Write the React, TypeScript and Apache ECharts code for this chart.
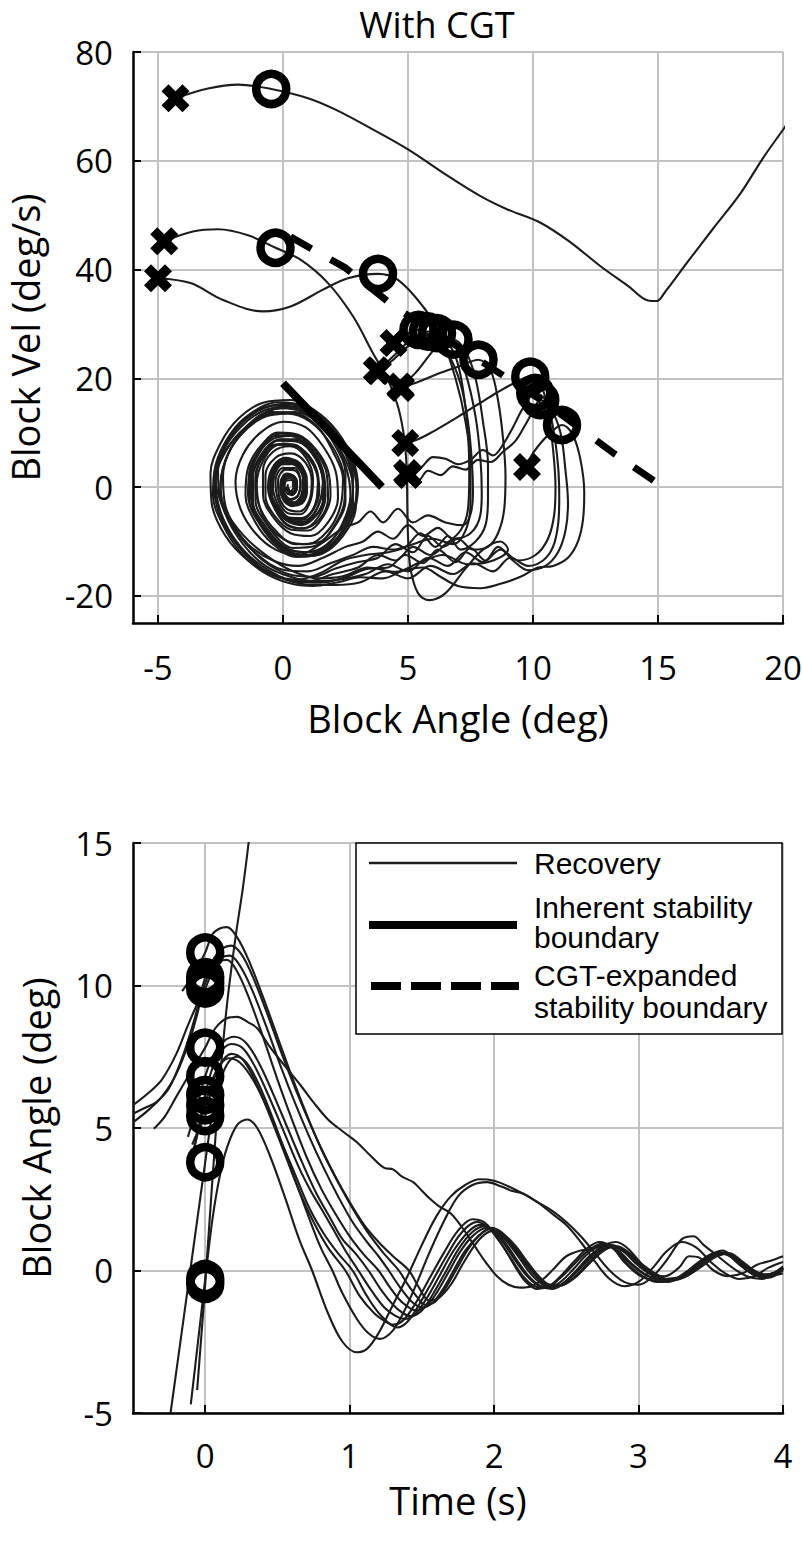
import React, { useEffect, useRef } from "react";
import * as echarts from "echarts";

const AXIS_FONT = "'Open Sans', 'DejaVu Sans', sans-serif";
const LEGEND_FONT = "'Liberation Sans', Arial, sans-serif";

// ---------- phase plane: [block angle (deg), block velocity (deg/s)] ----------
const phase01 = [[-4.3,71.5],[-3,73.3],[-1.8,74],[-0.47,73.2],[1,71.5],[2.1,69.4],[3.5,66],[5,62.1],[6.5,57.5],[7.9,53.5],[9,51],[10.3,48.6],[11.5,45],[12.7,40.6],[13.8,37],[14.6,34.3],[14.95,34.2],[15.3,36],[16.2,41.5],[17.2,47.5],[18.3,54],[19.2,60.5],[20,65.7],[20.5,69]];
const phase02 = [[-4.75,45.2],[-3.6,47],[-2.6,47.4],[-1.4,46.3],[-0.3,44],[0.7,41.8],[1.8,37.5],[2.8,31.4],[3.6,24.6],[4.2,19.7],[4.6,14.8],[4.85,9],[4.95,3],[4.97,-3],[5.0,-9],[5.1,-15],[5.4,-19.5],[5.85,-20.8],[6.5,-19.5],[7.3,-15],[8.0,-11.5],[8.7,-10],[9.0,-11.5],[8.4,-13.5],[7.4,-14.2],[6.4,-12.5],[5.5,-13.8],[4.5,-15.6],[3.4,-14.8],[2.4,-16.4],[1.4,-16.8],[0.4,-15.5],[-0.6,-12.8],[-1.6,-8.8],[-2.4,-3.5],[-2.7,1.5],[-2.3,6.5],[-1.5,11],[-0.5,13.8],[0.5,13.6],[1.4,11],[2.0,6.5],[2.4,1.5],[2.3,-3.5],[1.8,-8],[1.0,-10.5],[0.2,-10],[-0.6,-7],[-1.1,-2.5],[-1.1,2],[-0.7,6],[0,8],[0.7,7.2],[1.3,3.8],[1.45,-0.8],[1.1,-4.8],[0.5,-6.3],[-0.1,-5],[-0.45,-1.8],[-0.4,1.8],[-0.05,4.2],[0.45,4.2],[0.8,1.8],[0.8,-1.2],[0.5,-3],[0.1,-2.6],[-0.1,-0.5],[0.05,1.8],[0.35,2.2],[0.55,0.6],[0.45,-1.2],[0.2,-1.3],[0.1,0]];
const phase03 = [[-5.0,38.4],[-3.7,37.5],[-2.4,34.4],[-0.8,32.3],[0.3,33.2],[1.6,36.3],[2.6,38.4],[3.8,39.2],[4.6,38.1],[5.6,33.2],[6.3,28],[6.9,20],[7.3,12],[7.5,4],[7.5,-3],[7.3,-8],[6.8,-10.5],[6,-9.5],[5.2,-10.5],[4.4,-11.5],[3.6,-11],[2.8,-12.5],[1.9,-14],[1.0,-15.5],[0,-15.2],[-1.0,-12.5],[-1.9,-8],[-2.5,-2.5],[-2.6,3],[-2.1,8],[-1.2,12],[-0.1,14.5],[0.9,13.6],[1.8,10],[2.5,5],[2.8,0],[2.6,-5],[2.0,-9.5],[1.1,-12],[0.2,-11.5],[-0.6,-8.5],[-1.2,-4],[-1.3,1],[-0.9,5.5],[-0.2,8.5],[0.6,8.3],[1.3,5.2],[1.6,0.8],[1.4,-3.5],[0.9,-6],[0.2,-6],[-0.3,-3.5],[-0.5,0],[-0.3,3.5],[0.2,5],[0.7,3.6],[0.9,0.5],[0.75,-2.5],[0.35,-3.5],[0,-1.8],[-0.1,0.8],[0.15,2.5],[0.45,1.8],[0.55,-0.3],[0.35,-1.5],[0.15,-0.8],[0.2,0.5]];
const phase04 = [[4.42,26.5],[4.7,27.5],[5.1,28.5],[5.42,28.9],[6.0,27.5],[6.6,24.5],[7.1,19],[7.4,12],[7.55,5],[7.6,-1],[7.5,-5],[7.2,-7],[6.5,-6.5],[5.8,-5.2],[5.2,-6.5],[4.6,-4],[4.0,-6.5],[3.5,-4.5],[3.0,-6.5],[2.4,-7.5],[1.5,-10.5],[0.6,-12.5],[-0.3,-11.5],[-1.1,-8.5],[-1.7,-4],[-1.9,1],[-1.6,6],[-0.9,10],[0,12],[0.9,11],[1.6,7.5],[2.1,3],[2.2,-2],[1.8,-6.5],[1.1,-9],[0.3,-8.5],[-0.4,-5.5],[-0.8,-1.5],[-0.8,3],[-0.4,6.5],[0.3,7.5],[0.9,5.5],[1.2,1.5],[1.1,-2.5],[0.7,-5],[0.2,-4.8],[-0.2,-2.2],[-0.3,1.2],[0,3.5],[0.45,3.5],[0.7,1],[0.6,-1.6],[0.3,-2.4],[0.05,-1],[0.05,1],[0.3,1.7],[0.45,0.4],[0.3,-0.8],[0.2,0]];
const phase05 = [[3.75,21.5],[4.3,23],[4.9,25.5],[5.5,27.5],[6.16,28.3],[6.8,26.5],[7.3,21],[7.7,13],[7.9,5],[7.95,-1],[7.9,-5],[7.5,-8.5],[6.8,-9.5],[6.2,-7.5],[5.6,-9],[5.0,-7],[4.4,-9.5],[3.8,-8.2],[3.2,-10],[2.5,-11],[1.6,-13],[0.6,-14.5],[-0.4,-13.5],[-1.4,-10.5],[-2.1,-6],[-2.5,-0.5],[-2.3,5],[-1.7,9.5],[-0.8,12.8],[0.2,13.5],[1.1,12],[1.9,8],[2.4,3],[2.5,-2.5],[2.1,-7],[1.4,-10.2],[0.5,-10.5],[-0.3,-8],[-0.9,-4],[-1.1,0.5],[-0.9,5],[-0.3,7.8],[0.4,7.8],[1.0,5.5],[1.4,1.5],[1.35,-2.5],[0.9,-5.5],[0.3,-5.8],[-0.2,-3.8],[-0.5,-0.5],[-0.35,2.8],[0.05,4.5],[0.5,4],[0.8,1.6],[0.75,-1.2],[0.45,-2.8],[0.1,-2.2],[-0.1,0],[0.05,1.8],[0.35,2],[0.5,0.5],[0.4,-1],[0.2,-0.6]];
const phase06 = [[4.69,18.5],[5.3,21],[5.9,24.5],[6.3,26.6],[6.82,27.1],[7.3,25],[7.7,20],[8.0,12],[8.2,4],[8.2,-2],[8.1,-7],[7.7,-10],[7.1,-11.5],[6.6,-9],[6.1,-11],[5.5,-8.5],[4.9,-11],[4.2,-12],[3.3,-12.5],[2.4,-13.5],[1.5,-15.8],[0.6,-17],[-0.4,-16.2],[-1.4,-13.5],[-2.3,-9],[-2.85,-3],[-2.9,2.5],[-2.5,8],[-1.8,12.5],[-0.8,15.5],[0.3,16],[1.3,14],[2.2,10],[2.8,5],[3.0,0],[2.8,-5],[2.2,-9.5],[1.4,-12.5],[0.5,-12.8],[-0.4,-10.5],[-1.1,-6.5],[-1.5,-1.5],[-1.4,3.5],[-0.9,7.5],[-0.2,10],[0.6,9.6],[1.3,7],[1.8,3],[1.9,-1.5],[1.6,-5.5],[1.0,-8],[0.3,-7.8],[-0.3,-5.5],[-0.7,-1.8],[-0.7,2.2],[-0.3,5.4],[0.3,6.2],[0.9,4.5],[1.15,1],[1.05,-2.5],[0.65,-4.5],[0.15,-4],[-0.15,-1.8],[-0.2,1.2],[0.1,3.2],[0.5,3],[0.7,0.8],[0.6,-1.5],[0.3,-2.2],[0.05,-0.8],[0.1,1],[0.35,1.3],[0.4,0]];
const phase07 = [[3.8,21.3],[4.4,24],[5.1,27],[5.8,28.6],[6.4,27.5],[6.9,24],[7.2,18],[7.4,10],[7.45,2],[7.4,-4],[7.1,-8],[6.5,-10.5],[5.9,-12.5],[5.2,-11],[4.5,-13.5],[3.8,-12.5],[3.0,-14.8],[2.0,-16],[1.0,-17.3],[0,-16.8],[-1.0,-14.5],[-1.9,-10],[-2.5,-4.5],[-2.7,1],[-2.4,6.5],[-1.7,11],[-0.8,14],[0.2,14.8],[1.2,13],[2.0,9],[2.5,4],[2.7,-1.5],[2.4,-6.5],[1.8,-10.5],[0.9,-12],[0,-10.8],[-0.7,-7.2],[-1.2,-2.8],[-1.2,2],[-0.8,6],[-0.1,8.8],[0.7,8.5],[1.3,5.5],[1.6,1.2],[1.45,-3],[1.0,-6.2],[0.35,-6.5],[-0.2,-4.2],[-0.5,-0.8],[-0.4,2.8],[0,4.8],[0.5,4.4],[0.85,1.8],[0.85,-1.2],[0.55,-3],[0.15,-2.6],[-0.05,-0.6],[0.05,1.6],[0.35,2.1],[0.55,0.6],[0.4,-1],[0.2,-0.6]];
const phase08 = [[4.72,18.2],[5.5,19.5],[6.3,21],[7.1,22.3],[7.82,23.4],[8.3,21.5],[8.6,16],[8.8,9],[8.9,2],[8.85,-4],[8.6,-8.5],[8.2,-11],[7.6,-11.5],[7.0,-9.5],[6.4,-11],[5.8,-9],[5.2,-12],[4.5,-10.5],[3.8,-13],[3.0,-13.8],[2.1,-15],[1.2,-16.5],[0.2,-16],[-0.8,-13.5],[-1.7,-9],[-2.3,-3.5],[-2.4,2],[-2.1,7],[-1.4,11],[-0.5,13.5],[0.5,13.8],[1.4,11.8],[2.1,7.5],[2.5,2.5],[2.45,-2.8],[2.0,-7.5],[1.3,-10.8],[0.4,-11.2],[-0.4,-8.4],[-0.9,-4.2],[-1.05,0.5],[-0.8,4.8],[-0.2,7.8],[0.5,7.6],[1.1,5],[1.4,1],[1.3,-3],[0.85,-5.7],[0.25,-5.6],[-0.2,-3.2],[-0.4,0],[-0.25,3.2],[0.15,4.6],[0.6,3.6],[0.85,0.8],[0.7,-2.2],[0.35,-3],[0.05,-1.5],[0,0.8],[0.25,2.2],[0.5,1.4],[0.5,-0.4],[0.3,-1.2],[0.15,-0.2]];
const phase09 = [[4.89,8.1],[5.4,8.8],[6.0,10.2],[6.6,11.8],[7.2,13.5],[7.9,15.5],[8.5,17.2],[9.2,19],[9.89,20.3],[10.3,19],[10.6,14],[10.8,7],[10.9,0],[10.85,-5],[10.6,-9.5],[10.1,-12.5],[9.4,-13.5],[8.7,-11.5],[8.0,-13.8],[7.3,-12],[6.6,-14.5],[5.8,-13],[5.0,-15.5],[4.2,-14.2],[3.3,-16],[2.3,-17],[1.3,-17.3],[0.3,-16.5],[-0.7,-14.5],[-1.6,-10.5],[-2.3,-5],[-2.5,0.5],[-2.2,6],[-1.5,10.8],[-0.6,14],[0.4,14.6],[1.4,12.6],[2.2,8.5],[2.7,3.5],[2.8,-1.8],[2.5,-6.8],[1.9,-10.8],[1.0,-12.6],[0.1,-11.5],[-0.7,-7.8],[-1.2,-3.3],[-1.25,1.5],[-0.9,5.8],[-0.25,8.6],[0.5,8.8],[1.2,6.2],[1.6,2],[1.6,-2.5],[1.2,-5.8],[0.55,-6.8],[-0.05,-5],[-0.45,-1.8],[-0.45,1.8],[-0.1,4.5],[0.4,4.8],[0.85,2.6],[0.95,-0.6],[0.7,-2.8],[0.3,-3.2],[0,-1.6],[-0.05,0.8],[0.2,2.2],[0.5,1.6],[0.55,-0.2],[0.35,-1.3],[0.15,-0.5]];
const phase10 = [[4.96,2.6],[5.5,3.5],[6.0,5.5],[6.5,5.2],[7.0,4.2],[7.5,5],[8.0,6.8],[8.4,5.8],[8.8,7.8],[9.2,11],[9.6,14.5],[10.09,17.3],[10.5,16],[10.8,11],[11.0,4],[11.05,-2],[11.0,-7],[10.8,-11],[10.4,-13.5],[9.8,-14.5],[9.1,-13],[8.4,-15.5],[7.6,-14],[6.8,-16],[5.9,-14.5],[5.0,-16.8],[4.1,-15.5],[3.1,-17.5],[2.1,-18],[1.1,-18],[0.1,-17],[-0.9,-14.8],[-1.8,-10.8],[-2.5,-5.5],[-2.75,0],[-2.5,5.5],[-1.9,10.5],[-1.0,14],[0.1,15.3],[1.2,13.8],[2.1,10],[2.7,5],[2.95,-0.5],[2.7,-5.8],[2.1,-10],[1.2,-12.5],[0.3,-12],[-0.5,-9],[-1.1,-4.6],[-1.35,0.2],[-1.1,5],[-0.5,8.6],[0.3,9.4],[1.0,7.4],[1.5,3.4],[1.65,-1.2],[1.35,-5],[0.75,-7],[0.1,-6],[-0.35,-3.2],[-0.55,0.4],[-0.35,3.8],[0.1,5.4],[0.6,4.4],[0.95,1.6],[0.9,-1.6],[0.55,-3.4],[0.15,-2.8],[-0.1,-0.8],[0,1.4],[0.3,2.3],[0.55,1.1],[0.5,-0.8],[0.25,-1.2],[0.15,0]];
const phase11 = [[5.02,2.2],[5.4,1.2],[5.8,3],[6.3,2.2],[6.8,3.8],[7.3,3.2],[7.8,5],[8.3,4.6],[8.8,6.5],[9.3,8.5],[9.7,11.5],[10.0,14],[10.29,16],[10.7,14.5],[11.1,10],[11.3,3],[11.4,-3],[11.3,-8],[11.0,-12],[10.5,-14.5],[9.8,-15.3],[9.2,-13.5],[8.6,-11],[8.1,-13.5],[7.5,-11.2],[6.9,-13.8],[6.2,-11.5],[5.6,-14],[4.9,-12.5],[4.2,-14.8],[3.4,-15],[2.5,-16.6],[1.5,-17.6],[0.5,-17.4],[-0.5,-15.5],[-1.5,-12],[-2.3,-6.8],[-2.7,-1],[-2.6,4.8],[-2.1,9.8],[-1.3,13.5],[-0.2,15.6],[0.9,14.8],[1.9,11.6],[2.6,6.5],[2.95,1],[2.9,-4.3],[2.4,-9],[1.6,-12.2],[0.6,-12.8],[-0.3,-10.4],[-1.0,-6.2],[-1.4,-1.4],[-1.3,3.4],[-0.8,7.5],[-0.1,9.8],[0.7,9.2],[1.3,6.6],[1.75,2.4],[1.8,-2.2],[1.45,-6],[0.8,-7.6],[0.15,-6.8],[-0.35,-3.8],[-0.6,-0.2],[-0.45,3.3],[0,5.2],[0.55,4.8],[0.9,2.2],[0.95,-1.2],[0.65,-3.2],[0.2,-3],[-0.05,-1],[0,1.3],[0.3,2.2],[0.55,1],[0.5,-0.8],[0.25,-1],[0.15,0]];
const phase12 = [[9.76,3.7],[9.9,5.5],[10.2,7.5],[10.6,9.5],[11.16,11.4],[11.6,9.5],[11.9,5],[12.05,-1],[12.0,-6],[11.8,-10],[11.4,-13],[10.8,-14.5],[10.2,-14.8],[9.5,-16.5],[8.7,-17.8],[7.9,-18.6],[7.0,-18.2],[6.3,-16.5],[5.6,-14.8],[4.8,-15.4],[4.0,-16.8],[3.1,-16.6],[2.2,-17.5],[1.2,-18.2],[0.2,-17.6],[-0.8,-15.6],[-1.7,-12],[-2.4,-7],[-2.8,-1.5],[-2.7,4],[-2.2,9],[-1.4,12.8],[-0.4,15],[0.7,14.6],[1.7,11.8],[2.4,7.2],[2.8,2],[2.8,-3.3],[2.4,-8],[1.6,-11.5],[0.7,-12.6],[-0.2,-10.8],[-0.9,-7],[-1.35,-2.4],[-1.35,2.5],[-0.95,6.6],[-0.3,9.4],[0.5,9.4],[1.15,7],[1.6,3],[1.7,-1.6],[1.4,-5.6],[0.8,-7.6],[0.15,-7],[-0.3,-4.2],[-0.55,-0.6],[-0.45,3],[-0.05,5],[0.5,4.8],[0.85,2.4],[0.95,-0.8],[0.7,-3],[0.25,-3.2],[-0.05,-1.4],[-0.05,0.9],[0.25,2.2],[0.5,1.5],[0.5,-0.3],[0.3,-1.2],[0.15,-0.4]];

const phaseTrials = [phase01, phase02, phase03, phase04, phase05, phase06, phase07, phase08, phase09, phase10, phase11, phase12];

// state at perturbation onset (t = 0) for each trial: [angle, velocity]
const onsetStates = [[-0.47,73.2],[-0.3,44],[3.8,39.2],[5.42,28.9],[6.16,28.3],[6.82,27.1],[5.8,28.6],[7.82,23.4],[9.89,20.3],[10.09,17.3],[10.29,16],[11.16,11.4]];

// stability boundaries in the phase plane
const inherentBoundary = [[0,19.1],[3.96,0]];
const cgtBoundary = [[0.3,46],[2.5,40.3],[4.5,33],[7.8,23.5],[10.5,15.5],[13.2,6.3],[15.2,0]];

// ---------- time course: [time (s), block angle (deg)] ----------
const time01 = [[-0.056,-4.2],[-0.03,-2.5],[0,-0.47],[0.05,3.2],[0.1,6.6],[0.15,9.3],[0.21,11.7],[0.26,13.4],[0.3,15],[0.33,16.4]];
const time02 = [[-0.1,-4.7],[-0.05,-2.5],[0,-0.3],[0.05,1.8],[0.1,3.3],[0.15,4.3],[0.22,5.1],[0.29,5.3],[0.36,5.0],[0.45,4.0],[0.55,2.6],[0.65,1.1],[0.74,0],[0.85,-1.5],[0.95,-2.5],[1.05,-2.87],[1.12,-2.75],[1.2,-2.2],[1.3,-1.2],[1.4,-0.2],[1.5,0.9],[1.6,1.9],[1.7,2.6],[1.8,3.0],[1.9,3.2],[2.0,3.15],[2.1,2.95],[2.2,2.7],[2.3,2.4],[2.4,2.0],[2.5,1.6],[2.6,1.0],[2.7,0.3],[2.8,-0.3],[2.9,-0.55],[3.0,-0.4],[3.1,0.1],[3.2,0.7],[3.3,1.0],[3.4,0.8],[3.5,0.3],[3.6,-0.1],[3.7,-0.3],[3.8,-0.2],[3.9,0.1],[4.0,0.3]];
const time03 = [[-0.24,-5],[-0.18,-2.8],[-0.12,-0.6],[-0.06,1.6],[0,3.8],[0.05,5.5],[0.1,6.6],[0.16,7.3],[0.22,7.5],[0.3,7.2],[0.4,6.2],[0.5,4.9],[0.6,3.5],[0.7,2.1],[0.8,0.8],[0.88,0],[0.95,-0.8],[1.05,-1.7],[1.13,-2.2],[1.21,-2.4],[1.3,-2.1],[1.38,-1.4],[1.46,-0.5],[1.55,0.6],[1.65,1.7],[1.75,2.6],[1.85,3.0],[1.95,3.1],[2.05,2.95],[2.12,2.8],[2.2,2.7],[2.3,2.4],[2.4,2.1],[2.5,1.7],[2.6,1.2],[2.7,0.6],[2.8,0],[2.9,-0.4],[3.0,-0.5],[3.1,-0.2],[3.2,0.4],[3.3,1.1],[3.38,1.2],[3.45,0.9],[3.55,0.5],[3.65,0.1],[3.75,-0.2],[3.85,-0.3],[3.95,-0.1],[4.0,0.1]];
const time04 = [[-0.09,4.42],[-0.05,4.9],[0,5.42],[0.05,6.5],[0.1,7.2],[0.18,7.6],[0.26,7.4],[0.35,6.6],[0.45,5.4],[0.55,4.1],[0.65,2.8],[0.75,1.7],[0.85,0.8],[0.97,0],[1.07,-0.9],[1.17,-1.5],[1.25,-1.8],[1.3,-1.9],[1.37,-1.75],[1.45,-1.2],[1.55,-0.3],[1.65,0.6],[1.75,1.4],[1.85,1.8],[1.93,1.7],[2.0,1.3],[2.08,0.7],[2.15,0.1],[2.22,-0.4],[2.3,-0.65],[2.38,-0.55],[2.46,-0.2],[2.55,0.3],[2.65,0.8],[2.73,1.0],[2.82,0.8],[2.9,0.3],[3.0,-0.15],[3.1,-0.35],[3.2,-0.4],[3.3,-0.2],[3.4,0.2],[3.5,0.55],[3.58,0.7],[3.66,0.45],[3.75,0.05],[3.85,-0.2],[3.93,-0.1],[4.0,0.15]];
const time05 = [[-0.1,3.75],[-0.05,4.9],[0,6.16],[0.05,7.1],[0.11,7.7],[0.18,7.95],[0.26,7.8],[0.35,7.1],[0.45,6.0],[0.55,4.8],[0.65,3.6],[0.73,2.8],[0.8,2.2],[0.88,1.5],[0.97,0.7],[1.06,0],[1.15,-0.7],[1.24,-1.3],[1.32,-1.6],[1.38,-1.7],[1.45,-1.55],[1.53,-1.0],[1.62,-0.2],[1.72,0.7],[1.82,1.35],[1.9,1.6],[1.98,1.45],[2.06,1.0],[2.14,0.4],[2.22,-0.15],[2.3,-0.5],[2.38,-0.6],[2.46,-0.4],[2.55,0.05],[2.65,0.6],[2.75,0.9],[2.84,0.75],[2.93,0.3],[3.03,-0.1],[3.13,-0.3],[3.23,-0.35],[3.33,-0.1],[3.45,0.35],[3.55,0.65],[3.62,0.55],[3.7,0.2],[3.8,-0.15],[3.9,-0.25],[4.0,0.05]];
const time06 = [[-0.12,4.69],[-0.06,5.7],[0,6.82],[0.06,7.6],[0.13,8.05],[0.2,8.2],[0.28,8.0],[0.37,7.3],[0.47,6.2],[0.57,5.0],[0.67,3.8],[0.77,2.7],[0.87,1.8],[0.95,1.1],[1.04,0.6],[1.13,0],[1.22,-0.7],[1.3,-1.2],[1.37,-1.5],[1.42,-1.6],[1.5,-1.4],[1.58,-0.8],[1.67,0],[1.76,0.8],[1.85,1.35],[1.93,1.55],[2.0,1.4],[2.08,0.95],[2.16,0.35],[2.24,-0.2],[2.32,-0.55],[2.4,-0.65],[2.48,-0.45],[2.57,0],[2.67,0.55],[2.77,0.85],[2.86,0.7],[2.95,0.25],[3.05,-0.15],[3.15,-0.35],[3.25,-0.3],[3.35,0],[3.47,0.4],[3.57,0.6],[3.65,0.45],[3.73,0.1],[3.83,-0.2],[3.92,-0.2],[4.0,0.05]];
const time07 = [[-0.1,3.8],[-0.05,4.85],[0,5.8],[0.05,6.7],[0.1,7.2],[0.16,7.45],[0.24,7.3],[0.33,6.7],[0.42,5.8],[0.52,4.6],[0.62,3.4],[0.72,2.2],[0.82,1.3],[0.92,0.6],[1.02,0],[1.12,-0.9],[1.22,-1.6],[1.33,-2.0],[1.4,-1.8],[1.48,-1.2],[1.57,-0.4],[1.67,0.5],[1.77,1.3],[1.88,1.7],[1.96,1.5],[2.04,1.0],[2.12,0.4],[2.2,-0.2],[2.28,-0.55],[2.36,-0.6],[2.45,-0.3],[2.55,0.2],[2.65,0.7],[2.75,0.95],[2.84,0.7],[2.93,0.2],[3.03,-0.2],[3.13,-0.4],[3.23,-0.35],[3.33,-0.05],[3.43,0.35],[3.53,0.6],[3.6,0.6],[3.68,0.3],[3.78,-0.1],[3.88,-0.25],[3.96,-0.05],[4.0,0.1]];
const time08 = [[-0.356,4.97],[-0.28,5.4],[-0.2,6.1],[-0.12,6.8],[-0.05,7.4],[0,7.82],[0.07,8.5],[0.15,8.85],[0.22,8.9],[0.3,8.7],[0.36,8.5],[0.44,7.9],[0.5,7.5],[0.58,7.0],[0.66,6.5],[0.75,5.9],[0.85,5.3],[0.96,4.85],[1.05,4.5],[1.15,4.0],[1.24,3.6],[1.3,3.55],[1.36,3.3],[1.44,3.1],[1.5,2.8],[1.56,2.5],[1.62,2.25],[1.7,2.0],[1.78,1.5],[1.86,0.9],[1.94,0.3],[2.02,-0.2],[2.1,-0.5],[2.18,-0.6],[2.26,-0.55],[2.34,-0.3],[2.42,0.1],[2.5,0.5],[2.6,0.7],[2.68,0.75],[2.76,0.9],[2.84,1.0],[2.92,0.8],[3.0,0.35],[3.08,-0.1],[3.18,-0.2],[3.28,0.1],[3.35,0.5],[3.42,0.45],[3.52,0.0],[3.62,-0.2],[3.72,-0.1],[3.82,0.2],[3.92,0.35],[4.0,0.5]];
const time09 = [[-0.5,5.8],[-0.4,6.2],[-0.3,6.7],[-0.2,7.6],[-0.12,8.6],[-0.06,9.3],[0,9.89],[0.05,10.5],[0.1,10.85],[0.15,10.9],[0.22,10.5],[0.3,9.6],[0.4,8.2],[0.5,6.7],[0.6,5.3],[0.7,4.0],[0.8,2.9],[0.9,2.0],[1.0,1.2],[1.1,0.55],[1.2,0],[1.28,-0.6],[1.36,-1.1],[1.46,-1.4],[1.53,-1.25],[1.6,-0.8],[1.68,-0.1],[1.77,0.7],[1.86,1.25],[1.95,1.5],[2.02,1.35],[2.1,0.95],[2.18,0.4],[2.26,-0.15],[2.34,-0.5],[2.42,-0.6],[2.5,-0.35],[2.6,0.15],[2.7,0.65],[2.8,0.9],[2.88,0.75],[2.97,0.3],[3.07,-0.1],[3.17,-0.3],[3.27,-0.25],[3.38,0.1],[3.48,0.45],[3.58,0.62],[3.66,0.45],[3.75,0.1],[3.85,-0.15],[3.95,-0.1],[4.0,0]];
const time10 = [[-0.5,5.2],[-0.4,5.6],[-0.3,6.1],[-0.2,6.9],[-0.1,8.2],[-0.05,9.1],[0,10.09],[0.06,10.7],[0.12,11.0],[0.17,11.05],[0.24,10.7],[0.32,9.9],[0.42,8.6],[0.52,7.2],[0.62,5.9],[0.72,4.7],[0.82,3.6],[0.92,2.6],[1.02,1.7],[1.12,1.0],[1.2,0.5],[1.27,0],[1.35,-0.6],[1.43,-1.1],[1.5,-1.3],[1.57,-1.15],[1.64,-0.7],[1.72,0],[1.8,0.7],[1.89,1.2],[1.97,1.45],[2.04,1.3],[2.12,0.9],[2.2,0.35],[2.28,-0.15],[2.36,-0.5],[2.44,-0.55],[2.52,-0.3],[2.62,0.2],[2.72,0.65],[2.81,0.85],[2.9,0.65],[2.99,0.25],[3.09,-0.1],[3.19,-0.3],[3.29,-0.25],[3.4,0.1],[3.5,0.45],[3.6,0.6],[3.68,0.4],[3.77,0.05],[3.87,-0.15],[3.96,-0.05],[4.0,0.05]];
const time11 = [[-0.5,5.5],[-0.42,5.7],[-0.34,5.9],[-0.25,6.4],[-0.15,7.6],[-0.07,8.9],[0,10.29],[0.06,10.95],[0.12,11.3],[0.18,11.4],[0.25,11.1],[0.33,10.3],[0.43,9.0],[0.53,7.6],[0.63,6.3],[0.73,5.1],[0.83,4.0],[0.93,3.0],[1.03,2.1],[1.13,1.3],[1.22,0.7],[1.28,0.35],[1.34,0],[1.41,-0.55],[1.47,-0.95],[1.52,-1.2],[1.59,-1.1],[1.66,-0.65],[1.74,0.05],[1.82,0.75],[1.9,1.25],[1.98,1.5],[2.05,1.35],[2.13,0.9],[2.21,0.35],[2.29,-0.15],[2.37,-0.5],[2.45,-0.55],[2.54,-0.3],[2.64,0.2],[2.74,0.65],[2.83,0.85],[2.92,0.65],[3.01,0.2],[3.11,-0.15],[3.21,-0.35],[3.31,-0.25],[3.42,0.1],[3.52,0.45],[3.61,0.6],[3.69,0.4],[3.78,0.05],[3.88,-0.15],[4.0,0.1]];
const time12 = [[-0.16,9.8],[-0.08,10.4],[0,11.16],[0.05,11.8],[0.1,12.0],[0.15,12.05],[0.22,11.7],[0.3,10.9],[0.4,9.6],[0.5,8.2],[0.6,6.8],[0.7,5.5],[0.8,4.3],[0.9,3.3],[1.0,2.4],[1.1,1.6],[1.2,1.0],[1.3,0.5],[1.41,0],[1.48,-0.6],[1.55,-1.05],[1.62,-0.95],[1.7,-0.5],[1.78,0.2],[1.86,0.85],[1.93,1.25],[2.0,1.4],[2.07,1.25],[2.15,0.85],[2.23,0.3],[2.31,-0.2],[2.39,-0.5],[2.47,-0.5],[2.56,-0.25],[2.66,0.25],[2.76,0.7],[2.85,0.85],[2.94,0.6],[3.03,0.2],[3.13,-0.15],[3.23,-0.35],[3.33,-0.2],[3.44,0.15],[3.54,0.5],[3.63,0.6],[3.71,0.35],[3.8,0],[3.9,-0.2],[4.0,-0.1]];

const timeTrials = [time01, time02, time03, time04, time05, time06, time07, time08, time09, time10, time11, time12];

// axis ticks
const phaseAngleTicks = [-5, 0, 5, 10, 15, 20];
const phaseVelTicks = [-20, 0, 20, 40, 60, 80];
const timeTicks = [0, 1, 2, 3, 4];
const timeAngleTicks = [-5, 0, 5, 10, 15];

const legendLabels = ["Recovery", "Inherent stability\nboundary", "CGT-expanded\nstability boundary"];

// bold "x" marker
const CROSS = "path://M0,2.5 L2.5,0 L5,2.5 L7.5,0 L10,2.5 L7.5,5 L10,7.5 L7.5,10 L5,7.5 L2.5,10 L0,7.5 L2.5,5 Z";
const TRACE = "#1c1c1c";
const GRID_GRAY = "#c2c2c2";

function valueAxis(gridIndex: number, min: number, max: number, ticks: number[], name: string, isX: boolean, nameGap: number, labelMargin: number) {
  return {
    type: "value",
    gridIndex,
    min,
    max,
    name,
    nameLocation: "middle",
    nameGap,
    nameRotate: isX ? 0 : 90,
    nameTextStyle: { fontFamily: AXIS_FONT, fontSize: 38, color: "#000", verticalAlign: "middle", lineHeight: 40 },
    axisLine: { show: true, onZero: false, lineStyle: { color: "#000", width: 2.5 } },
    axisTick: { show: true, inside: true, length: 8, customValues: ticks, lineStyle: { color: "#000", width: 2 } },
    axisLabel: {
      customValues: ticks,
      fontFamily: AXIS_FONT,
      fontSize: 33,
      color: "#000",
      margin: labelMargin,
      verticalAlign: "middle",
      align: isX ? "center" : "right",
    },
    splitLine: { show: true, lineStyle: { color: GRID_GRAY, width: 2 } },
  };
}

export default function App() {
  const ref = useRef<HTMLDivElement>(null);

  useEffect(() => {
    if (!ref.current) return;
    const chart = echarts.init(ref.current, null, { renderer: "svg" });

    const traceSeries = (data: number[][], axisIndex: number) => ({
      type: "line",
      xAxisIndex: axisIndex,
      yAxisIndex: axisIndex,
      data,
      smooth: 0.35,
      symbol: "none",
      lineStyle: { color: TRACE, width: 2.1 },
      z: 2,
      silent: true,
    });

    const series: any[] = [];
    phaseTrials.forEach((t) => series.push(traceSeries(t, 0)));
    timeTrials.forEach((t) => series.push(traceSeries(t, 1)));

    series.push({
      type: "line",
      xAxisIndex: 0,
      yAxisIndex: 0,
      data: inherentBoundary,
      symbol: "none",
      lineStyle: { color: "#000", width: 8, cap: "butt" },
      z: 4,
    });
    series.push({
      type: "line",
      xAxisIndex: 0,
      yAxisIndex: 0,
      data: cgtBoundary,
      symbol: "none",
      lineStyle: { color: "#000", width: 7, type: [24, 22], cap: "butt" },
      z: 4,
    });

    const ring = { color: "rgba(0,0,0,0)", borderColor: "#000", borderWidth: 8.5, opacity: 1 };

    // trial start states
    series.push({
      type: "scatter",
      xAxisIndex: 0,
      yAxisIndex: 0,
      data: phaseTrials.map((t) => t[0]),
      symbol: CROSS,
      symbolSize: 28,
      itemStyle: { color: "#000", opacity: 1 },
      z: 5,
    });
    // perturbation onset in the phase plane
    series.push({
      type: "scatter",
      xAxisIndex: 0,
      yAxisIndex: 0,
      data: onsetStates,
      symbol: "circle",
      symbolSize: 30,
      itemStyle: ring,
      z: 6,
    });
    // perturbation onset in time
    series.push({
      type: "scatter",
      xAxisIndex: 1,
      yAxisIndex: 1,
      data: onsetStates.map((s) => [0, s[0]]),
      symbol: "circle",
      symbolSize: 30,
      itemStyle: ring,
      z: 6,
    });

    const lx = 369;
    const lx2 = 517;
    const tx = 534;
    const LZ = 200;
    // dashed legend sample drawn as separate bars
    const dashStarts = [371, 411, 451, 491];
    const dashBars = dashStarts.map((x0) => ({
      type: "rect",
      z: LZ + 1,
      shape: { x: x0, y: 982, width: Math.min(30, 519 - x0), height: 8 },
      style: { fill: "#000", stroke: "none" },
    }));

    chart.setOption({
      animation: false,
      backgroundColor: "#fff",
      grid: [
        { left: 133, right: 19, top: 52, height: 571, outerBoundsMode: "none", containLabel: false },
        { left: 133, right: 19, top: 843, height: 570, outerBoundsMode: "none", containLabel: false },
      ],
      xAxis: [
        valueAxis(0, -6, 20, phaseAngleTicks, "Block Angle (deg)", true, 95, 44),
        valueAxis(1, -0.5, 4, timeTicks, "Time (s)", true, 87, 42),
      ],
      yAxis: [
        valueAxis(0, -25, 80, phaseVelTicks, "Block Vel (deg/s)", false, 108, 20),
        valueAxis(1, -5, 15, timeAngleTicks, "Block Angle (deg)", false, 97, 20),
      ],
      series,
      graphic: [
        {
          type: "text",
          x: 437,
          y: 24,
          style: { text: "With CGT", fontFamily: AXIS_FONT, fontSize: 36, fill: "#000", align: "center", verticalAlign: "middle" },
        },
        { type: "rect", z: LZ, shape: { x: 356, y: 843, width: 426, height: 191 }, style: { fill: "#fff", stroke: "#000", lineWidth: 1.5 } },
        { type: "line", z: LZ + 1, shape: { x1: lx, y1: 863, x2: lx2, y2: 863 }, style: { stroke: TRACE, lineWidth: 2.5 } },
        { type: "rect", z: LZ + 1, shape: { x: lx, y: 921, width: lx2 - lx, height: 8 }, style: { fill: "#000", stroke: "none" } },
        ...dashBars,
        { type: "text", z: LZ + 1, x: tx, y: 863, style: { text: legendLabels[0], fontFamily: LEGEND_FONT, fontSize: 30, fill: "#000", verticalAlign: "middle" } },
        { type: "text", z: LZ + 1, x: tx, y: 922, style: { text: legendLabels[1], fontFamily: LEGEND_FONT, fontSize: 30, lineHeight: 30, fill: "#000", verticalAlign: "middle" } },
        { type: "text", z: LZ + 1, x: tx, y: 991, style: { text: legendLabels[2], fontFamily: LEGEND_FONT, fontSize: 30, lineHeight: 32, fill: "#000", verticalAlign: "middle" } },
      ],
    });

    return () => chart.dispose();
  }, []);

  return (
    <div
      ref={ref}
      style={{ position: "absolute", left: 0, top: 0, width: 802, height: 1545, background: "#fff" }}
    />
  );
}
